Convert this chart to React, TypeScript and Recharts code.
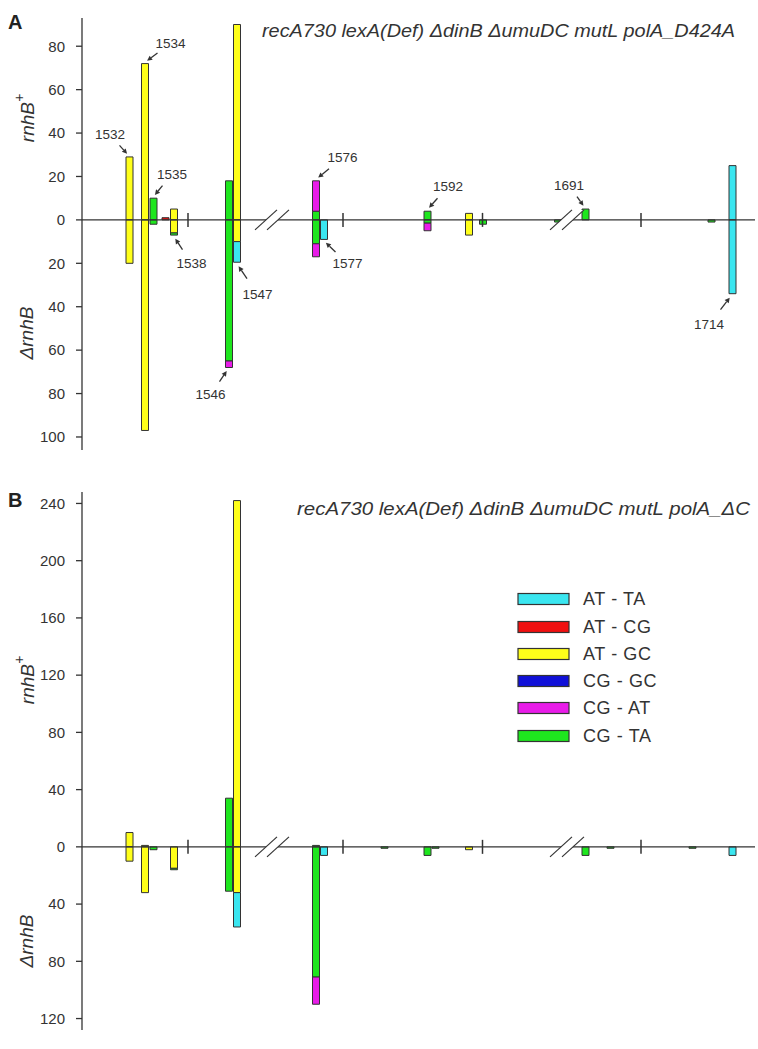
import React from 'react';
import { BarChart, Bar, XAxis, YAxis, ReferenceLine, ReferenceDot } from 'recharts';

// mutation classes (legend order) and their colours
const mutationTypes = ['AT - TA', 'AT - CG', 'AT - GC', 'CG - GC', 'CG - AT', 'CG - TA'];
const typeColors = ['#3ae6f0', '#f01010', '#ffff1a', '#1010d8', '#e81ce8', '#1ee61e'];
// order the segments are stacked away from zero
const stackOrder = [2, 1, 3, 5, 4, 0];

// sites along the target (position = distance along the drawn track)
const siteLabels = ['1532', '1534', '1535', '', '1538', '1546', '1547', '1576', '1577', '', '1592', '', '', '', '', '1691', '', '', '', '1714'];
const sitePositions = [47, 62.5, 71, 83, 91.5, 146.5, 154.5, 233.5, 241.5, 302, 345, 353, 386.5, 400.5, 475.5, 503, 528, 610, 629, 650];

// track markers
const separatorPositions = [106, 261, 400.5, 559];
const breakPositions = [190, 485];

// panel A: recA730 lexA(Def) dinB umuDC mutL polA_D424A
const aUp = [
  [0, 0, 0, 0, 0, 0, 0, 0, 0, 0, 0, 0, 0, 0, 0, 0, 0, 0, 0, 25], // AT-TA
  [0, 0, 0, 1, 0, 0, 0, 0, 0, 0, 0, 0, 0, 0, 0, 0, 0, 0, 0, 0], // AT-CG
  [29, 72, 0, 0, 5, 0, 90, 0, 0, 0, 0, 0, 3, 0, 0, 0, 0, 0, 0, 0], // AT-GC
  [0, 0, 0, 0, 0, 0, 0, 0, 0, 0, 0, 0, 0, 0, 0, 0, 0, 0, 0, 0], // CG-GC
  [0, 0, 0, 0, 0, 0, 0, 14, 0, 0, 0, 0, 0, 0, 0, 0, 0, 0, 0, 0], // CG-AT
  [0, 0, 10, 0, 0, 18, 0, 4, 0, 0, 4, 0, 0, 0, 0, 5, 0, 0, 0, 0], // CG-TA
];
const aDown = [
  [0, 0, 0, 0, 0, 0, 9.5, 0, 9, 0, 0, 0, 0, 0, 0, 0, 0, 0, 0, 34],
  [0, 0, 0, 0, 0, 0, 0, 0, 0, 0, 0, 0, 0, 0, 0, 0, 0, 0, 0, 0],
  [20, 97, 0, 0, 6, 0, 10, 0, 0, 0, 0, 0, 7, 0, 0, 0, 0, 0, 0, 0],
  [0, 0, 0, 0, 0, 0, 0, 0, 0, 0, 0, 0, 0, 0, 0, 0, 0, 0, 0, 0],
  [0, 0, 0, 0, 0, 3, 0, 6, 0, 0, 3.5, 0, 0, 0, 0, 0, 0, 0, 0, 0],
  [0, 0, 2, 0, 1, 65, 0, 11, 0, 0, 1.5, 0, 0, 2, 1, 0, 0, 0, 1, 0],
];

// panel B: recA730 lexA(Def) dinB umuDC mutL polA_dC
const bUp = [
  [0, 0, 0, 0, 0, 0, 0, 0, 0, 0, 0, 0, 0, 0, 0, 0, 0, 0, 0, 0],
  [0, 0, 0, 0, 0, 0, 0, 0, 0, 0, 0, 0, 0, 0, 0, 0, 0, 0, 0, 0],
  [10, 1, 0, 0, 0, 0, 242, 0, 0, 0, 0, 0, 0, 0, 0, 0, 0, 0, 0, 0],
  [0, 0, 0, 0, 0, 0, 0, 0, 0, 0, 0, 0, 0, 0, 0, 0, 0, 0, 0, 0],
  [0, 0, 0, 0, 0, 0, 0, 0, 0, 0, 0, 0, 0, 0, 0, 0, 0, 0, 0, 0],
  [0, 0, 0, 0, 0, 34, 0, 1, 0, 0, 0, 0, 0, 0, 0, 0, 0, 0, 0, 0],
];
const bDown = [
  [0, 0, 0, 0, 0, 0, 24, 0, 6, 0, 0, 0, 0, 0, 0, 0, 0, 0, 0, 6],
  [0, 0, 0, 0, 0, 0, 0, 0, 0, 0, 0, 0, 0, 0, 0, 0, 0, 0, 0, 0],
  [10, 32, 0, 0, 15, 0, 32, 0, 0, 0, 0, 0, 2, 0, 0, 0, 0, 0, 0, 0],
  [0, 0, 0, 0, 0, 0, 0, 0, 0, 0, 0, 0, 0, 0, 0, 0, 0, 0, 0, 0],
  [0, 0, 0, 0, 0, 0, 0, 19, 0, 0, 0, 0, 0, 0, 0, 0, 0, 0, 0, 0],
  [0, 0, 2, 0, 1, 31, 0, 91, 0, 1, 6, 1, 0, 0, 0, 6, 1, 1, 0, 0],
];

const aTicks = [-100, -80, -60, -40, -20, 0, 20, 40, 60, 80];
const bTicks = [-120, -80, -40, 0, 40, 80, 120, 160, 200, 240];

// callouts in panel A: site index, which end of the bar, label offset
const notesA = [
  { i: 0, end: 'up', dx: -19, dy: -21 },
  { i: 1, end: 'up', dx: 26, dy: -19 },
  { i: 2, end: 'up', dx: 19, dy: -23 },
  { i: 4, end: 'down', dx: 18, dy: 27 },
  { i: 5, end: 'down', dx: -18, dy: 26 },
  { i: 6, end: 'down', dx: 21, dy: 31 },
  { i: 7, end: 'up', dx: 27, dy: -22 },
  { i: 8, end: 'down', dx: 24, dy: 23 },
  { i: 10, end: 'up', dx: 21, dy: -24 },
  { i: 15, end: 'up', dx: -16, dy: -23 },
  { i: 19, end: 'down', dx: -23, dy: 30 },
];

const FONT = '"Liberation Sans", Arial, sans-serif';
const INK = '#333';

function buildRows(up: number[][], down: number[][]) {
  return sitePositions.map((pos, i) => {
    const row: Record<string, number> = { pos };
    mutationTypes.forEach((_, k) => {
      row['up' + k] = up[k][i];
      row['dn' + k] = -down[k][i];
    });
    return row;
  });
}

function total(cols: number[][], i: number) {
  return cols.reduce((s, c) => s + c[i], 0);
}

function Callout(props: any) {
  const { cx, cy, label, dx, dy } = props;
  const x0 = cx;
  const y0 = cy + (dy > 0 ? 1 : -1);
  const sx = x0 + dx * 0.5;
  const sy = y0 + dy * 0.5;
  const ex = x0 + dx * 0.1;
  const ey = y0 + dy * 0.1;
  const len = Math.hypot(ex - sx, ey - sy) || 1;
  const ux = (ex - sx) / len;
  const uy = (ey - sy) / len;
  const h = 5;
  const w = 2.6;
  const bx = ex - ux * h;
  const by = ey - uy * h;
  return (
    <g>
      <line x1={sx} y1={sy} x2={bx} y2={by} stroke={INK} strokeWidth={1.3} />
      <polygon
        points={`${ex},${ey} ${bx - uy * w},${by + ux * w} ${bx + uy * w},${by - ux * w}`}
        fill={INK}
      />
      <text x={x0 + dx} y={y0 + dy} textAnchor="middle" dominantBaseline="central" fontSize={13.5} fontFamily={FONT} fill={INK}>
        {label}
      </text>
    </g>
  );
}

function Separator(props: any) {
  const { cx, cy } = props;
  return <line x1={cx} y1={cy - 7} x2={cx} y2={cy + 7} stroke={INK} strokeWidth={1.5} />;
}

function BreakMark(props: any) {
  const { cx, cy } = props;
  return (
    <g>
      <polygon points={`${cx - 17},${cy + 10} ${cx + 5},${cy - 10} ${cx + 17},${cy - 10} ${cx - 5},${cy + 10}`} fill="#fff" />
      <line x1={cx - 17} y1={cy + 10} x2={cx + 5} y2={cy - 10} stroke={INK} strokeWidth={1.2} />
      <line x1={cx - 5} y1={cy + 10} x2={cx + 17} y2={cy - 10} stroke={INK} strokeWidth={1.2} />
    </g>
  );
}

interface PanelProps {
  top: number;
  height: number;
  margin: { top: number; right: number; bottom: number; left: number };
  domain: [number, number];
  ticks: number[];
  up: number[][];
  down: number[][];
  notes: { i: number; end: string; dx: number; dy: number }[];
}

function Panel({ top, height, margin, domain, ticks, up, down, notes }: PanelProps) {
  const rows = buildRows(up, down);
  return (
    <div style={{ position: 'absolute', left: 0, top, width: 758, height }}>
      <BarChart width={758} height={height} data={rows} margin={margin} stackOffset="sign" barSize={7}>
        <XAxis type="number" dataKey="pos" domain={[0, 673]} hide allowDataOverflow />
        <YAxis
          type="number"
          domain={domain}
          ticks={ticks}
          interval={0}
          allowDataOverflow
          width={82}
          tickSize={6}
          tickMargin={11}
          tickFormatter={(v: number) => String(Math.abs(v))}
          axisLine={{ stroke: INK, strokeWidth: 1.3 }}
          tickLine={{ stroke: INK, strokeWidth: 1.3 }}
          tick={{ fill: INK, fontSize: 15, fontFamily: FONT }}
        />
        {stackOrder.map((k) => (
          <Bar key={'up' + k} dataKey={'up' + k} stackId="s" fill={typeColors[k]} stroke={INK} strokeWidth={1} isAnimationActive={false} />
        ))}
        {stackOrder.map((k) => (
          <Bar key={'dn' + k} dataKey={'dn' + k} stackId="s" fill={typeColors[k]} stroke={INK} strokeWidth={1} isAnimationActive={false} />
        ))}
        <ReferenceLine y={0} stroke={INK} strokeWidth={1.3} />
        {separatorPositions.map((p) => (
          <ReferenceDot key={'sep' + p} x={p} y={0} r={0} shape={(pr: any) => <Separator {...pr} />} />
        ))}
        {breakPositions.map((p) => (
          <ReferenceDot key={'brk' + p} x={p} y={0} r={0} shape={(pr: any) => <BreakMark {...pr} />} />
        ))}
        {notes.map((n) => {
          const v = n.end === 'up' ? total(up, n.i) : -total(down, n.i);
          return (
            <ReferenceDot
              key={'note' + n.i}
              x={sitePositions[n.i]}
              y={v}
              r={0}
              shape={(pr: any) => <Callout {...pr} label={siteLabels[n.i]} dx={n.dx} dy={n.dy} />}
            />
          );
        })}
      </BarChart>
    </div>
  );
}

function AxisWord({ x, y, delta, plus }: { x: number; y: number; delta?: boolean; plus?: boolean }) {
  return (
    <text
      x={x}
      y={y}
      transform={`rotate(-90 ${x} ${y})`}
      textAnchor="middle"
      dominantBaseline="central"
      fontSize={19}
      fontStyle="italic"
      fontFamily={FONT}
      fill={INK}
    >
      {delta ? 'Δ' : ''}rnhB
      {plus ? (
        <tspan fontSize={14} dy={-8}>
          +
        </tspan>
      ) : null}
    </text>
  );
}

const legendRows = [599, 627, 654, 681, 708, 736];

export default function App() {
  return (
    <div style={{ position: 'absolute', left: 0, top: 0, width: 758, height: 1049, background: '#fff', overflow: 'hidden' }}>
      <Panel
        top={0}
        height={470}
        margin={{ top: 18, right: 3, bottom: 20, left: 0 }}
        domain={[-106, 93]}
        ticks={aTicks}
        up={aUp}
        down={aDown}
        notes={notesA}
      />
      <Panel
        top={470}
        height={579}
        margin={{ top: 22, right: 3, bottom: 19, left: 0 }}
        domain={[-128, 248]}
        ticks={bTicks}
        up={bUp}
        down={bDown}
        notes={[]}
      />
      <svg width={758} height={1049} style={{ position: 'absolute', left: 0, top: 0, pointerEvents: 'none' }}>
        <text x={8} y={29} fontSize={20} fontWeight="bold" fontFamily={FONT} fill="#222">A</text>
        <text x={8} y={507} fontSize={20} fontWeight="bold" fontFamily={FONT} fill="#222">B</text>
        <text x={262} y={37} fontSize={18} fontStyle="italic" fontFamily={FONT} fill={INK} textLength={473} lengthAdjust="spacingAndGlyphs">
          recA730 lexA(Def) ΔdinB ΔumuDC mutL polA_D424A
        </text>
        <text x={297} y={515} fontSize={18} fontStyle="italic" fontFamily={FONT} fill={INK} textLength={453} lengthAdjust="spacingAndGlyphs">
          recA730 lexA(Def) ΔdinB ΔumuDC mutL polA_ΔC
        </text>
        <AxisWord x={27} y={118} plus />
        <AxisWord x={26} y={333} delta />
        <AxisWord x={27} y={680} plus />
        <AxisWord x={26} y={941} delta />
        {mutationTypes.map((t, k) => (
          <g key={t}>
            <rect x={518} y={legendRows[k] - 5.5} width={51} height={11} fill={typeColors[k]} stroke={INK} strokeWidth={1.2} />
            <text x={583} y={legendRows[k]} dominantBaseline="central" fontSize={18} letterSpacing={0.6} fontFamily={FONT} fill={INK}>
              {t}
            </text>
          </g>
        ))}
      </svg>
    </div>
  );
}
